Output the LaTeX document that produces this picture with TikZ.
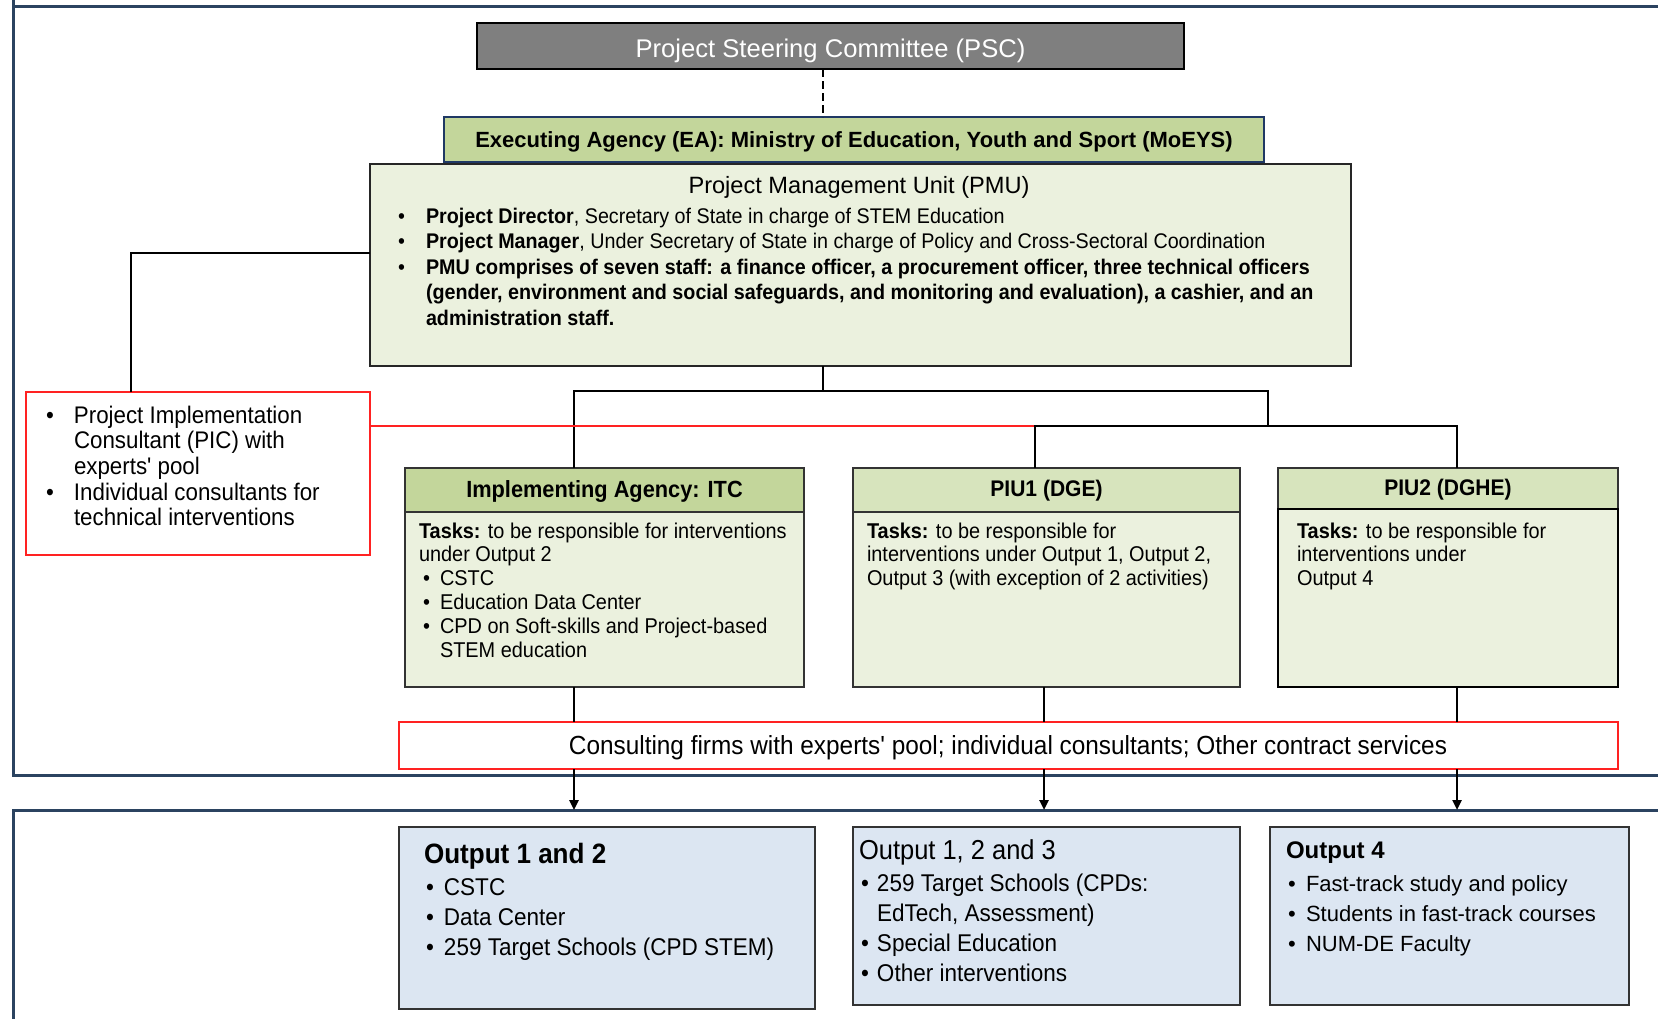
\documentclass[tikz,border=0pt]{standalone}
\usepackage{fontspec}
\setmainfont{Liberation Sans}
\newfontfamily\nar[FakeStretch=0.93]{Liberation Sans}
\usetikzlibrary{arrows.meta,fit}
\definecolor{framec}{HTML}{2B4360}
\definecolor{pscgray}{HTML}{7F7F7F}
\definecolor{eagreen}{HTML}{C3D69B}
\definecolor{hdrgreen}{HTML}{D7E4BD}
\definecolor{bodygreen}{HTML}{EBF1DE}
\definecolor{outblue}{HTML}{DCE6F2}
\definecolor{redc}{HTML}{FF2222}
\definecolor{eablue}{HTML}{1F3864}
\newcommand{\bul}[1]{\makebox[#1][l]{\textbullet}}
\newcommand{\lns}[1]{\begin{tabular}[t]{@{}l@{}}#1\end{tabular}}
\begin{document}
\begin{tikzpicture}[x=0.5pt,y=-0.5pt,
  box/.style={inner sep=0pt, outer sep=0pt},
  txt/.style={inner sep=0pt, outer sep=0pt, anchor=base west},
  ctxt/.style={inner sep=0pt, outer sep=0pt, anchor=center},
  tree/.style={line width=1.35pt, black},
  thinl/.style={line width=0.7pt, black},
  redl/.style={line width=0.8pt, redc},
  arr/.style={line width=1.2pt, black, -{Triangle[length=5pt,width=4.5pt]}},
  greenbox/.style={box, draw=black!80, line width=0.7pt, fill=bodygreen},
  outbox/.style={box, draw=black!80, line width=0.8pt, fill=outblue},
  redbox/.style={box, draw=redc, line width=0.8pt},
  ptext/.style={font=\nar\fontsize{10.6}{12.75}\selectfont},
  ttext/.style={font=\nar\fontsize{10.7}{11.95}\selectfont},
  otext/.style={font=\nar\fontsize{12.1}{15.1}\selectfont},
]
\useasboundingbox (0,0) rectangle (1658,1018);
% frames
\draw[framec, line width=1.5pt] (13,-10) -- (13,775) -- (1680,775);
\draw[framec, line width=1.5pt] (13,6) -- (1680,6);
\draw[framec, line width=1.5pt] (13,1040) -- (13,810) -- (1680,810);

% boxes
\node[box, draw=black, line width=1.4pt, fill=pscgray, fit={(477,23) (1184,69)}] (psc) {};
\node[box, draw=black!85, line width=0.7pt, fill=bodygreen, fit={(370,164) (1351,366)}] (pmu) {};
\node[box, draw=eablue, line width=1.1pt, fill=eagreen, fit={(444,117) (1264,162)}] (ea) {};
\node[redbox, fit={(26,392) (370,555)}] (pic) {};
\node[greenbox, fit={(405,468) (804,687)}] (itc) {};
\node[box, draw=black!80, line width=0.7pt, fill=eagreen, fit={(405,468) (804,512)}] (itch) {};
\node[greenbox, fit={(853,468) (1240,687)}] (piu1) {};
\node[box, draw=black!80, line width=0.7pt, fill=hdrgreen, fit={(853,468) (1240,512)}] (piu1h) {};
\node[greenbox, fit={(1278,468) (1618,687)}] (piu2) {};
\node[box, draw=black!80, line width=0.7pt, fill=hdrgreen, fit={(1278,468) (1618,509)}] (piu2h) {};
\node[box, draw=black, line width=1.3pt, fit={(1278,509) (1618,687)}] (piu2b) {};
\node[redbox, fit={(399,722) (1618,769)}] (cons) {};
\node[outbox, fit={(399,827) (815,1009)}] (out1) {};
\node[outbox, fit={(853,827) (1240,1005)}] (out2) {};
\node[outbox, fit={(1270,827) (1629,1005)}] (out3) {};

% coordinates
\coordinate (spine) at (823,391);
\coordinate (hL) at (574,391);
\coordinate (hR) at (1268,391);
\coordinate (j2) at (1268,426);
\coordinate (h2L) at (1035,426);
\coordinate (h2R) at (1457,426);
\coordinate (picTop) at (131,253);
\coordinate (c1) at (574,810);
\coordinate (c2) at (1044,810);
\coordinate (c3) at (1457,810);

% connectors
\draw[thinl, line width=1pt, dash pattern=on 4pt off 2pt] (psc.south -| spine) -- (ea.north -| spine);
\draw[tree] (pmu.south -| spine) -- (spine);
\draw[tree] (itc.north -| hL) -- (hL) -- (hR) -- (j2);
\draw[redl] (pic.east |- h2L) -- (h2L);
\draw[tree] (piu1.north -| h2L) -- (h2L) -- (h2R) -- (piu2.north -| h2R);
\draw[thinl] (pmu.west |- picTop) -- (picTop) -- (pic.north -| picTop);
\draw[tree] (itc.south -| c1) -- (cons.north -| c1);
\draw[tree] (piu1.south -| c2) -- (cons.north -| c2);
\draw[tree] (piu2.south -| c3) -- (cons.north -| c3);
\draw[arr] (cons.south -| c1) -- (c1);
\draw[arr] (cons.south -| c2) -- (c2);
\draw[arr] (cons.south -| c3) -- (c3);

% texts
\node[ctxt, text=white, font=\fontsize{12.8}{15}\selectfont] (psct) at ([yshift=-2.5pt]psc.center) {Project Steering Committee (PSC)};
\node[ctxt, font=\bfseries\fontsize{11}{14}\selectfont] (eat) at ([yshift=-1pt]ea.center) {Executing Agency (EA): Ministry of Education, Youth and Sport (MoEYS)};
\node[ctxt, font=\fontsize{11.8}{14}\selectfont] (pmut) at (859,187) {Project Management Unit (PMU)};
\node[txt, ptext] (pmub) at (398,223) {\lns{\bul{14pt}\textbf{Project Director}, Secretary of State in charge of STEM Education\\
\bul{14pt}\textbf{Project Manager}, Under Secretary of State in charge of Policy and Cross-Sectoral Coordination\\
\bul{14pt}\textbf{PMU comprises of seven staff: a finance officer, a procurement officer, three technical officers}\\
\hspace*{14pt}\textbf{(gender, environment and social safeguards, and monitoring and evaluation), a cashier, and an}\\
\hspace*{14pt}\textbf{administration staff.}}};
\node[txt, font=\nar\fontsize{12}{12.85}\selectfont] (pict) at (46,423) {\lns{\bul{14pt}Project Implementation\\
\hspace*{14pt}Consultant (PIC) with\\
\hspace*{14pt}experts' pool\\
\bul{14pt}Individual consultants for\\
\hspace*{14pt}technical interventions}};
\node[ctxt, font=\nar\bfseries\fontsize{11.7}{13}\selectfont] (itct) at ([yshift=-0.5pt]itch.center) {Implementing Agency: ITC};
\node[txt, ttext] (itcb) at (419,538) {\lns{\textbf{Tasks:} to be responsible for interventions\\
under Output 2\\
\hspace*{2pt}\bul{8.5pt}CSTC\\
\hspace*{2pt}\bul{8.5pt}Education Data Center\\
\hspace*{2pt}\bul{8.5pt}CPD on Soft-skills and Project-based\\
\hspace*{10.5pt}STEM education}};
\node[ctxt, font=\nar\bfseries\fontsize{11.3}{13}\selectfont] (piu1t) at ([yshift=-0.5pt]piu1h.center) {PIU1 (DGE)};
\node[txt, ttext] (piu1b) at (867,538) {\lns{\textbf{Tasks:} to be responsible for\\
interventions under Output 1, Output 2,\\
Output 3 (with exception of 2 activities)}};
\node[ctxt, font=\nar\bfseries\fontsize{11.3}{13}\selectfont] (piu2t) at ([yshift=-0.5pt]piu2h.center) {PIU2 (DGHE)};
\node[txt, ttext] (piu2bt) at (1297,538) {\lns{\textbf{Tasks:} to be responsible for\\
interventions under\\
Output 4}};
\node[ctxt, font=\nar\fontsize{13.1}{15}\selectfont] (const) at (1008,748) {Consulting firms with experts' pool; individual consultants; Other contract services};
\node[txt, font=\nar\bfseries\fontsize{14}{15}\selectfont] (o1t) at (424,863) {Output 1 and 2};
\node[txt, otext] (o1b) at (426,895) {\lns{\bul{9pt}CSTC\\ \bul{9pt}Data Center\\ \bul{9pt}259 Target Schools (CPD STEM)}};
\node[txt, font=\nar\fontsize{13.7}{15}\selectfont] (o2t) at (859,859) {Output 1, 2 and 3};
\node[txt, otext] (o2b) at (861,891) {\lns{\bul{8pt}259 Target Schools (CPDs:\\ \hspace*{8pt}EdTech, Assessment)\\ \bul{8pt}Special Education\\ \bul{8pt}Other interventions}};
\node[txt, font=\bfseries\fontsize{12}{15}\selectfont] (o3t) at (1286,858) {Output 4};
\node[txt, font=\fontsize{11}{15.1}\selectfont] (o3b) at (1288,891) {\lns{\bul{9pt}Fast-track study and policy\\ \bul{9pt}Students in fast-track courses\\ \bul{9pt}NUM-DE Faculty}};
\end{tikzpicture}
\end{document}
